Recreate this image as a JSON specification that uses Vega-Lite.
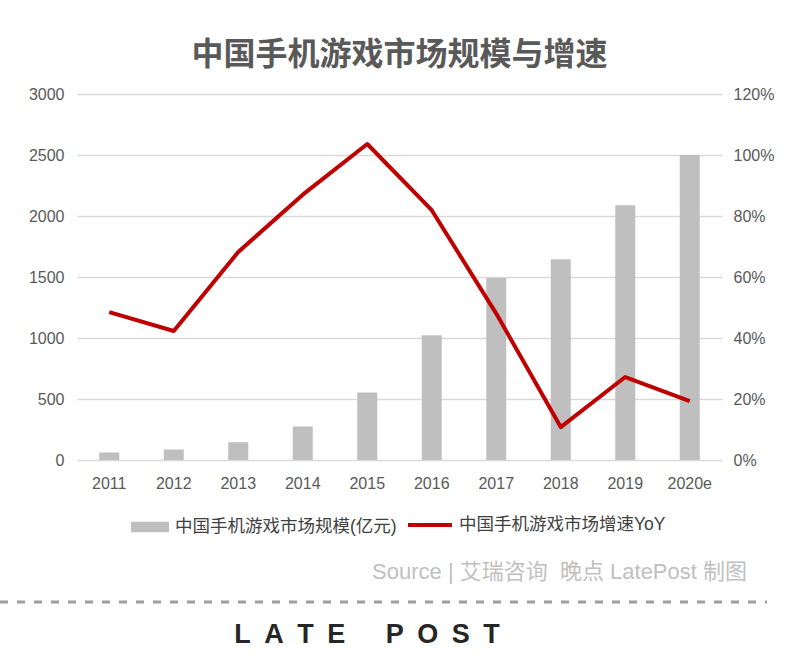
{
  "$schema": "https://vega.github.io/schema/vega-lite/v6.json",
  "width": 645,
  "height": 366,
  "autosize": {"type": "none"},
  "padding": {"left": 77, "top": 94, "right": 75, "bottom": 205},
  "background": "white",
  "title": {
    "text": "中国手机游戏市场规模与增速",
    "font": "Noto Sans CJK SC",
    "fontSize": 32,
    "fontWeight": "bold",
    "color": "#595959",
    "anchor": "middle",
    "offset": 14
  },
  "config": {
    "view": {"stroke": null},
    "axis": {
      "labelFont": "Liberation Sans",
      "labelFontSize": 16,
      "labelColor": "#595959",
      "ticks": false,
      "domain": false,
      "title": null
    },
    "legend": {
      "labelFont": "Liberation Sans, Noto Sans CJK SC",
      "labelFontSize": 17.5,
      "labelColor": "#404040",
      "labelLimit": 400,
      "title": null
    }
  },
  "data": {
    "values": [
      {"year": "2011", "size": 62, "yoy": 0.485},
      {"year": "2012", "size": 86, "yoy": 0.423},
      {"year": "2013", "size": 146, "yoy": 0.682},
      {"year": "2014", "size": 275, "yoy": 0.87},
      {"year": "2015", "size": 554, "yoy": 1.036},
      {"year": "2016", "size": 1022, "yoy": 0.819},
      {"year": "2017", "size": 1492, "yoy": 0.48},
      {"year": "2018", "size": 1646, "yoy": 0.108},
      {"year": "2019", "size": 2089, "yoy": 0.272},
      {"year": "2020e", "size": 2500, "yoy": 0.193}
    ]
  },
  "encoding": {
    "x": {
      "field": "year",
      "type": "ordinal",
      "sort": null,
      "axis": {"labelAngle": 0, "labelPadding": 15, "grid": false}
    }
  },
  "layer": [
    {
      "mark": {"type": "bar", "width": 20},
      "encoding": {
        "y": {
          "field": "size",
          "type": "quantitative",
          "scale": {"domain": [0, 3000], "nice": false},
          "axis": {
            "values": [0, 500, 1000, 1500, 2000, 2500, 3000],
            "format": "d",
            "grid": true,
            "gridColor": "#d9d9d9",
            "gridWidth": 1.5,
            "labelPadding": 13
          }
        },
        "fill": {
          "datum": "中国手机游戏市场规模(亿元)",
          "scale": {"range": ["#bfbfbf"]},
          "legend": {
            "orient": "none",
            "legendX": 54,
            "legendY": 414,
            "symbolType": "M-1,-0.27H1V0.27H-1Z",
            "symbolSize": 1444,
            "symbolStrokeWidth": 0,
            "labelOffset": 6
          }
        }
      }
    },
    {
      "mark": {"type": "line", "strokeWidth": 4, "strokeJoin": "round"},
      "encoding": {
        "y": {
          "field": "yoy",
          "type": "quantitative",
          "scale": {"domain": [0, 1.2], "nice": false},
          "axis": {
            "orient": "right",
            "values": [0, 0.2, 0.4, 0.6, 0.8, 1.0, 1.2],
            "format": ".0%",
            "grid": false,
            "labelPadding": 11
          }
        },
        "stroke": {
          "datum": "中国手机游戏市场增速YoY",
          "scale": {"range": ["#c00000"]},
          "legend": {
            "orient": "none",
            "legendX": 329,
            "legendY": 407,
            "symbolType": "stroke",
            "symbolSize": 1936,
            "symbolStrokeWidth": 4,
            "labelOffset": 5
          }
        }
      }
    },
    {
      "data": {"values": [{"t": "Source | 艾瑞咨询\u00a0\u00a0晚点 LatePost 制图"}]},
      "mark": {
        "type": "text",
        "align": "right",
        "baseline": "middle",
        "font": "Liberation Sans, Noto Sans CJK SC",
        "fontSize": 22,
        "color": "#bfbfbf"
      },
      "encoding": {
        "text": {"field": "t"},
        "x": {"value": 670},
        "y": {"value": 478}
      }
    },
    {
      "data": {"values": [{"t": "rule"}]},
      "mark": {"type": "rule", "strokeDash": [8, 9], "strokeWidth": 3, "color": "#9e9e9e"},
      "encoding": {
        "x": {"value": -77},
        "x2": {"value": 690},
        "y": {"value": 508}
      }
    },
    {
      "data": {"values": [{"t": "L\u2002A\u2002T\u2002E\u2003\u2002P\u2002O\u2002S\u2002T"}]},
      "mark": {
        "type": "text",
        "align": "center",
        "baseline": "middle",
        "font": "Liberation Sans",
        "fontSize": 27,
        "fontWeight": "bold",
        "color": "#262626"
      },
      "encoding": {
        "text": {"field": "t"},
        "x": {"value": 290},
        "y": {"value": 541}
      }
    }
  ],
  "resolve": {"scale": {"y": "independent", "fill": "independent", "stroke": "independent"}}
}
